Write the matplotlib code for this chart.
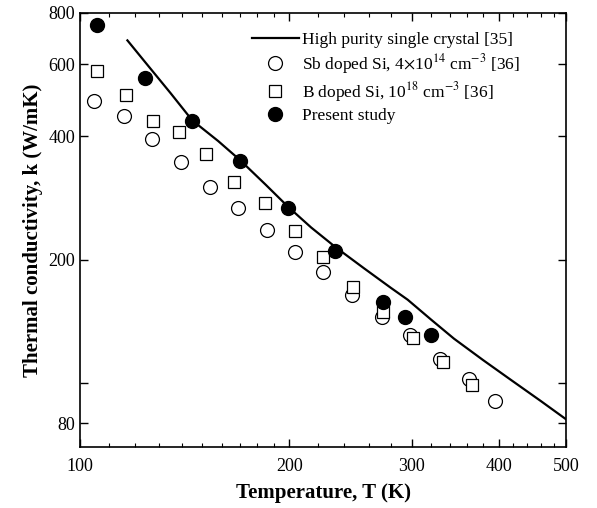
import matplotlib
matplotlib.use("Agg")
import matplotlib.pyplot as plt
from matplotlib.ticker import FixedLocator, NullFormatter, LogLocator

plt.rcParams['font.family'] = ['Liberation Serif', 'DejaVu Serif']
plt.rcParams['mathtext.fontset'] = 'stix'

# High purity single crystal [35]
line_T = [117, 124, 135, 145, 158, 170, 185, 199, 215, 233, 256, 280, 296, 320, 345, 380, 415, 460, 500]
line_k = [686, 608, 510, 438, 390, 350, 305, 270, 240, 215, 191, 171, 160, 143, 128.6, 114, 102.5, 90.6, 81.8]

# Sb doped Si
sb_T = [104.8, 115.8, 126.8, 139.8, 154, 169, 185.6, 204, 223.8, 246, 272, 298, 329, 363, 395]
sb_k = [488, 448, 395, 347, 301, 267, 236, 209, 186.6, 164, 145, 131, 115, 102.5, 90.8]

# B doped Si
b_T = [105.7, 116.5, 127.5, 138.8, 152, 166.7, 184.6, 204, 223.8, 247, 272.5, 301, 332.6, 366.4]
b_k = [578, 505, 436, 411, 363, 310, 275, 235, 203, 172, 149, 129, 113, 99]

# Present study
ps_T = [105.8, 124, 145, 170, 199, 232.6, 273, 293, 320]
ps_k = [746, 556, 436, 348, 268, 210, 158, 145, 131]

y_ticks = [80, 100, 200, 400, 600, 800]
y_labels = ['80', '', '200', '400', '600', '800']
x_ticks = [100, 200, 300, 400, 500]
x_labels = ['100', '200', '300', '400', '500']

fig = plt.figure(figsize=(5.97, 5.08), dpi=100)
ax = fig.add_axes([80/597, 61/508, 486/597, 434/508])

ax.plot(line_T, line_k, color='black', lw=1.6, label='High purity single crystal [35]')
ax.plot(sb_T, sb_k, 'o', mfc='white', mec='black', mew=0.9, ms=10,
        label=r'Sb doped Si, 4$\times$10$^{14}$ cm$^{-3}$ [36]')
ax.plot(b_T, b_k, 's', mfc='white', mec='black', mew=0.9, ms=9,
        label=r'B doped Si, 10$^{18}$ cm$^{-3}$ [36]')
ax.plot(ps_T, ps_k, 'o', mfc='black', mec='black', ms=10, label='Present study')

ax.set_xscale('log')
ax.set_yscale('log')
ax.set_xlim(100, 500)
ax.set_ylim(70, 800)

ax.xaxis.set_major_locator(FixedLocator(x_ticks))
ax.set_xticklabels(x_labels)
ax.xaxis.set_minor_locator(LogLocator(base=10, subs=[1.1,1.2,1.3,1.4,1.5,1.6,1.7,1.8,1.9,2.2,2.4,2.6,2.8,3.2,3.4,3.6,3.8,4.2,4.4,4.6,4.8]))
ax.xaxis.set_minor_formatter(NullFormatter())
ax.yaxis.set_major_locator(FixedLocator(y_ticks))
ax.set_yticklabels(y_labels)
ax.yaxis.set_minor_locator(FixedLocator([]))

ax.tick_params(which='both', direction='in', top=True, right=True, labelsize=13)
ax.tick_params(which='major', length=6, width=1)
ax.tick_params(which='minor', length=3, width=0.8)
ax.tick_params(axis='x', pad=8)
for s in ax.spines.values():
    s.set_linewidth(1.2)

ax.set_xlabel('Temperature, T (K)', fontsize=15, fontweight='bold', labelpad=6)
ax.set_ylabel('Thermal conductivity, k (W/mK)', fontsize=15, fontweight='bold', labelpad=4)

ax.legend(loc='upper left', bbox_to_anchor=(0.325, 0.988), frameon=False, fontsize=12.5,
          handlelength=2.7, handletextpad=0.2, labelspacing=0.22, borderaxespad=0.4)

fig.savefig('out.png', dpi=100)
